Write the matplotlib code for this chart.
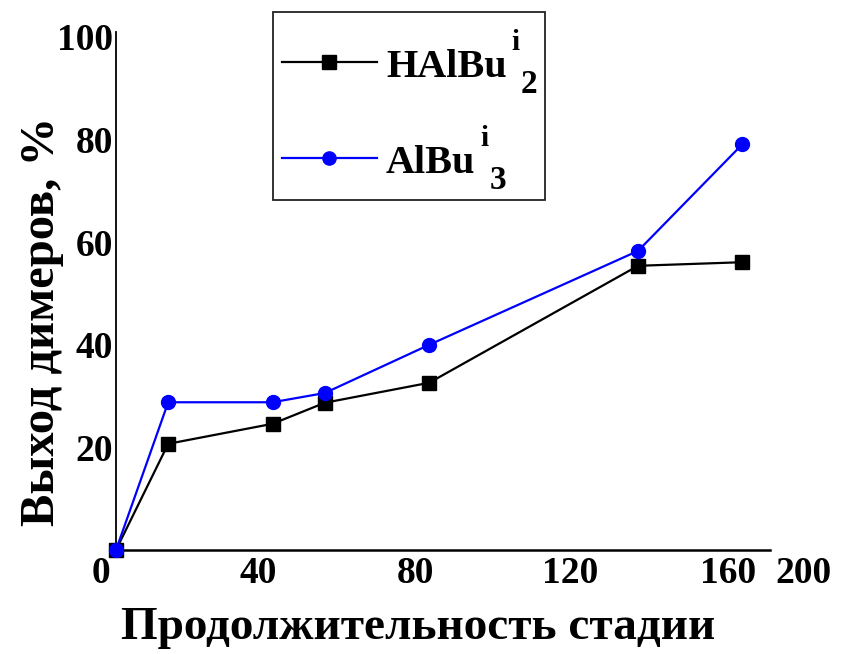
import matplotlib
matplotlib.use("Agg")
import matplotlib.pyplot as plt
from matplotlib.lines import Line2D
from matplotlib.patches import Rectangle
from matplotlib.transforms import Affine2D

plt.rcParams['font.family'] = ['Liberation Serif', 'DejaVu Serif']
plt.rcParams['font.weight'] = 'bold'

# Stage duration and dimer yield (%)
duration = [0, 15, 45, 60, 90, 150, 180]
yield_halbu2 = [0, 20.7, 24.6, 28.7, 32.6, 55.4, 56.1]
yield_albu3 = [0, 28.8, 28.8, 30.6, 40.0, 58.3, 79.1]

# Legend text: formula body, superscript, subscript
series_names = [('HAlBu', 'i', '2'), ('AlBu', 'i', '3')]

xtick_pos = [-4.3, 40.8, 86.0, 130.5, 176.0, 197.4]
xtick_labels = ['0', '40', '80', '120', '160', '200']
ytick_pos = [20, 40, 60, 80, 100]
ytick_labels = ['20', '40', '60', '80', '100']

x_title = 'Продолжительность стадии'
y_title = 'Выход димеров, %'

W, H = 850, 654
fig = plt.figure(figsize=(W / 100, H / 100), dpi=100)
# pixel (top-left origin) -> figure fraction, used for the layout below
px = Affine2D().scale(1 / W, -1 / H).translate(0, 1) + fig.transFigure

# axes geometry: x=0 at 116 px, 3.48 px per unit; y=0 at 550 px, 5.13 px per unit
x_lo, x_hi = -6, 200
y_lo, y_hi = 0, 101
x0_px, sx = 116, 3.48
y0_px, sy = 550, 5.13
left = x0_px + x_lo * sx
right = x0_px + x_hi * sx
top = y0_px - y_hi * sy
ax = fig.add_axes([left / W, 1 - y0_px / H, (right - left) / W, (y0_px - top) / H])
ax.patch.set_alpha(0)

l1, = ax.plot(duration, yield_halbu2, color='black', lw=1.6, marker='s', ms=10,
              clip_on=False, zorder=3)
l2, = ax.plot(duration, yield_albu3, color='#0000ff', lw=1.6, marker='o', ms=10,
              clip_on=False, zorder=4)

ax.set_xticks(xtick_pos)
ax.set_xticklabels(xtick_labels)
ax.set_yticks(ytick_pos)
ax.set_yticklabels(ytick_labels)
ax.set_xlim(x_lo, x_hi)
ax.set_ylim(y_lo, y_hi)

for side in ('top', 'right'):
    ax.spines[side].set_visible(False)
ax.spines['left'].set_position(('data', 0))
ax.spines['left'].set_bounds(0, y_hi)
ax.spines['bottom'].set_bounds(0, 188)
ax.spines['left'].set_linewidth(1.3)
ax.spines['bottom'].set_linewidth(1.8)

ax.tick_params(axis='both', length=0, labelsize=27)
ax.tick_params(axis='x', pad=4)
ax.tick_params(axis='y', pad=2)

fig.text(418, 628, x_title, transform=px, fontsize=34, fontweight='bold',
         ha='center', va='center')
fig.text(42, 321, y_title, transform=px, fontsize=35, fontweight='bold',
         rotation=90, ha='center', va='center')

# legend box
fig.add_artist(Rectangle((273, 200), 272, -188, transform=px, fill=False,
                         edgecolor='#222222', lw=1.3))
baselines = [77, 173]
for line, (body, sup, sub), base in zip((l1, l2), series_names, baselines):
    yl = base - 15.5
    fig.add_artist(Line2D([282, 377], [yl, yl], transform=px,
                          color=line.get_color(), lw=line.get_linewidth()))
    fig.add_artist(Line2D([329], [yl], transform=px, ls='none',
                          marker=line.get_marker(), ms=9.5,
                          color=line.get_color()))
    t = fig.text(386, base, body, transform=px, fontsize=29,
                 fontweight='bold', ha='left', va='baseline')
    ax.annotate(sup, xy=(1, 0), xycoords=t, xytext=(4.5, 27 + 9),
                textcoords='offset pixels', fontsize=21, fontweight='bold',
                ha='left', va='baseline', annotation_clip=False)
    ax.annotate(sub, xy=(1, 0), xycoords=t, xytext=(14, -16 + 9),
                textcoords='offset pixels', fontsize=24, fontweight='bold',
                ha='left', va='baseline', annotation_clip=False)

fig.savefig('out.png', dpi=100)
